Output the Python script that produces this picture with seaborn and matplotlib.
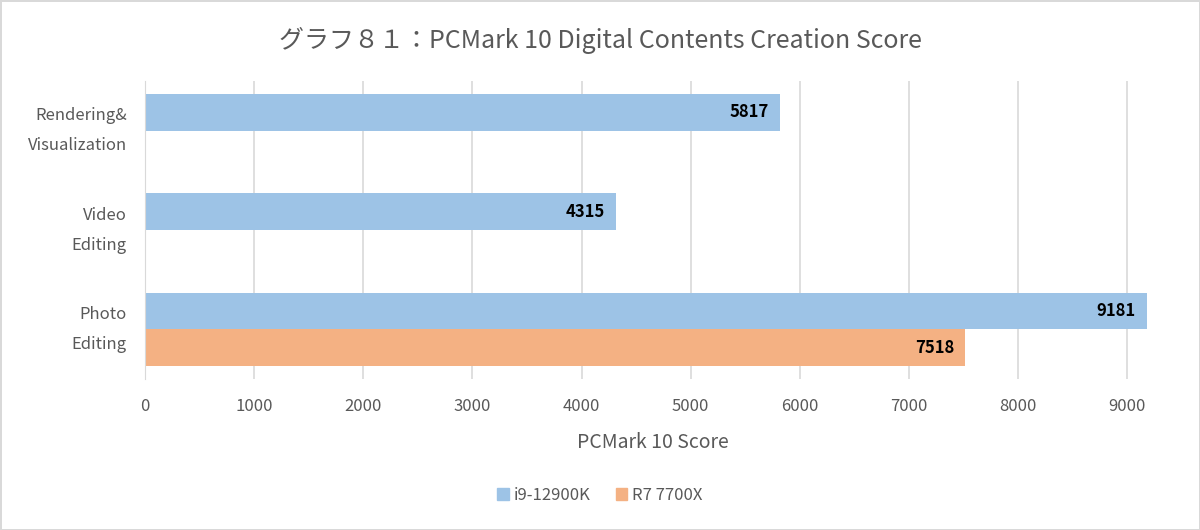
import pandas as pd
import matplotlib.pyplot as plt
import seaborn as sns

# Datos
categorias = ['Rendering&\nVisualization', 'Video\nEditing', 'Photo\nEditing']
serie_i9 = [5817, 4315, 9181]
serie_r7 = [None, None, 7518]
nombres = ['i9-12900K', 'R7 7700X']
colores = ['#9DC3E6', '#F4B183']
ticks_x = [0, 1000, 2000, 3000, 4000, 5000, 6000, 7000, 8000, 9000]

# Tabla larga para seaborn (sin las filas vacías)
filas = []
for cat, a, b in zip(categorias, serie_i9, serie_r7):
    if a is not None:
        filas.append({'cat': cat, 'cpu': nombres[0], 'score': a})
    if b is not None:
        filas.append({'cat': cat, 'cpu': nombres[1], 'score': b})
df = pd.DataFrame(filas)

sns.set_style('white')
plt.rcParams['font.family'] = ['Noto Sans CJK JP', 'DejaVu Sans']
gris = '#595959'

fig = plt.figure(figsize=(12, 5.3), dpi=100, facecolor='white',
                 edgecolor='#d9d9d9', linewidth=2)
ax = fig.add_axes([0.1208, 0.285, 0.8458, 0.562])

sns.barplot(data=df, y='cat', x='score', hue='cpu', order=categorias,
            hue_order=nombres, palette=colores, orient='h', width=0.74,
            saturation=1, linewidth=0, ax=ax, legend=False)

ax.set_ylim(2.5, -0.5)
ax.set_xlim(0, 9300)
ax.set_xticks(ticks_x)
ax.xaxis.grid(True, color='#d9d9d9', linewidth=1.2)
ax.set_axisbelow(True)
for lado in ['top', 'right', 'bottom']:
    ax.spines[lado].set_visible(False)
ax.spines['left'].set_color('#d9d9d9')
ax.tick_params(axis='x', length=0, pad=14, labelsize=12, labelcolor=gris)
ax.tick_params(axis='y', length=0, pad=13, labelsize=12, labelcolor=gris)
for t in ax.get_yticklabels():
    t.set_linespacing(2.0)
    t.set_ha('right')
    t.set_va('center')
ax.set_ylabel('')
ax.set_xlabel('PCMark 10 Score', fontsize=14, color=gris, labelpad=12)

# Etiquetas de valor dentro de las barras
for barra in ax.patches:
    w = barra.get_width()
    if w > 0:
        ax.annotate(f'{w:.0f}', (w, barra.get_y() + barra.get_height() / 2),
                    xytext=(-8, 0), textcoords='offset points', ha='right',
                    va='center', fontsize=12, fontweight='bold', color='black')

fig.suptitle('グラフ８１：PCMark 10 Digital Contents Creation Score',
             y=0.95, fontsize=18, color=gris)

handles = [plt.Rectangle((0, 0), 1, 1, color=c) for c in colores]
fig.legend(handles, nombres, loc='center', bbox_to_anchor=(0.5, 0.066),
           ncol=2, frameon=False, handlelength=0.7, handleheight=0.7,
           handletextpad=0.3, columnspacing=1.5, fontsize=12, labelcolor=gris)

fig.savefig('out.png', dpi=100, facecolor=fig.get_facecolor(),
            edgecolor=fig.get_edgecolor())
